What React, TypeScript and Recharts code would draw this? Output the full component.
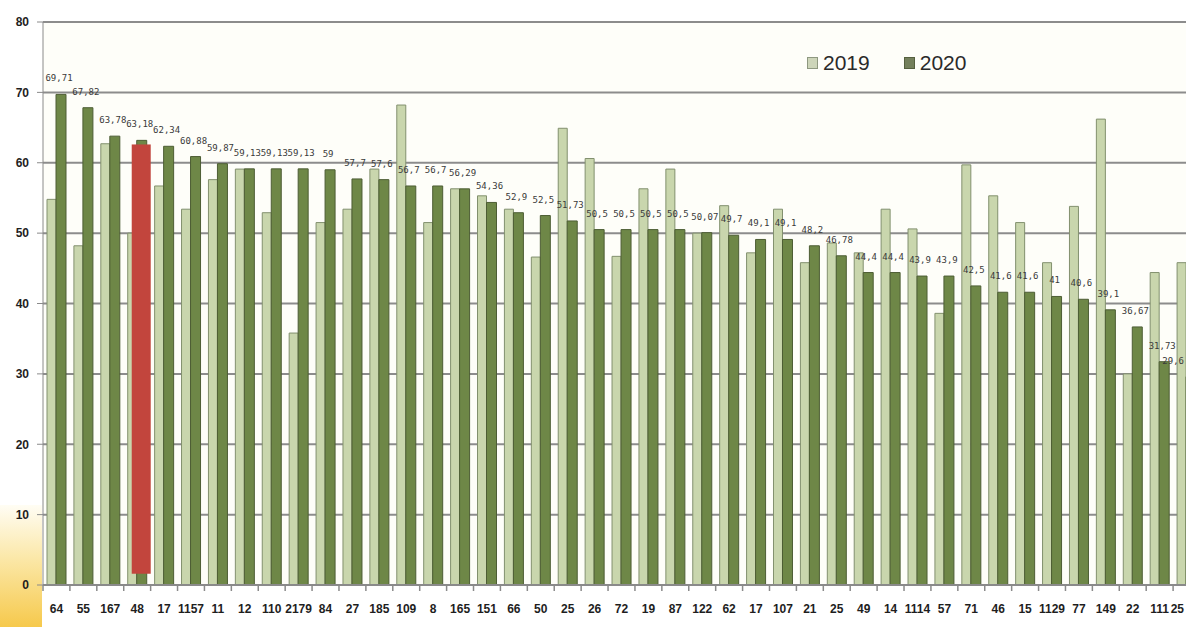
import React from 'react';
import {
  BarChart,
  Bar,
  XAxis,
  YAxis,
  CartesianGrid,
  LabelList,
} from 'recharts';

const categories = [
  '64', '55', '167', '48', '17', '1157', '11', '12', '110', '2179', '84',
  '27', '185', '109', '8', '165', '151', '66', '50', '25', '26', '72', '19',
  '87', '122', '62', '17', '107', '21', '25', '49', '14', '1114', '57', '71',
  '46', '15', '1129', '77', '149', '22', '111', '25',
];

const values2019 = [
  54.8, 48.2, 62.7, 50.0, 56.7, 53.4, 57.6, 59.1, 52.9, 35.8, 51.5,
  53.4, 59.1, 68.2, 51.5, 56.3, 55.3, 53.4, 46.6, 64.9, 60.6, 46.7, 56.3,
  59.1, 50.0, 53.9, 47.2, 53.4, 45.8, 48.6, 47.2, 53.4, 50.6, 38.6, 59.7,
  55.3, 51.5, 45.8, 53.8, 66.2, 30.0, 44.4, 45.8,
];

const values2020 = [
  69.71, 67.82, 63.78, 63.18, 62.34, 60.88, 59.87, 59.13, 59.13, 59.13, 59,
  57.7, 57.6, 56.7, 56.7, 56.29, 54.36, 52.9, 52.5, 51.73, 50.5, 50.5, 50.5,
  50.5, 50.07, 49.7, 49.1, 49.1, 48.2, 46.78, 44.4, 44.4, 43.9, 43.9, 42.5,
  41.6, 41.6, 41.0, 40.6, 39.1, 36.67, 31.73, 29.6,
];

const yTicks = [0, 10, 20, 30, 40, 50, 60, 70, 80];

const seriesNames = ['2019', '2020'];

// red marker drawn over one category
const highlightIndex = 3;
const highlightRange = [1.6, 62.6];

const data = categories.map((name, i) => ({
  name,
  y2019: values2019[i],
  y2020: values2020[i],
  hl: i === highlightIndex ? highlightRange : null,
}));

const VIEW_W = 1186;
const CHART_W = 1210;
const MARGIN = { top: 22, right: 10, left: 0, bottom: 0 };
const Y_W = 43;
const BAND = (CHART_W - MARGIN.left - MARGIN.right - Y_W) / categories.length;
const LAST = categories.length - 1;

const LIGHT = '#c9d6ad';
const LIGHT_EDGE = '#82906e';
const DARK = '#6e8747';
const DARK_EDGE = '#4d5d34';

const fmt = (v: number) =>
  Number.isInteger(v) ? String(v) : String(v).replace('.', ',');

const XTick = (props: any) => {
  const { x, y, payload, index } = props;
  const bx = x - BAND / 2;
  // the last category sits at the picture edge, keep its text inside
  const edge = index === LAST;
  return (
    <g>
      <line x1={bx} x2={bx} y1={y - 6} y2={y} stroke="#8a8a8a" strokeWidth={1.5} />
      <text
        x={edge ? VIEW_W - 2 : x}
        y={y + 22}
        textAnchor={edge ? 'end' : 'middle'}
        fontSize={12}
        fontWeight={700}
        fontFamily="Liberation Sans, Arial, sans-serif"
        fill="#1e1e1e"
      >
        {payload.value}
      </text>
    </g>
  );
};

const ValueLabel = (props: any) => {
  const { x, y, width, value, index } = props;
  if (value == null) return null;
  const edge = index === LAST;
  return (
    <text
      x={edge ? VIEW_W - 2 : x + width / 2 - 2}
      y={y - 13}
      textAnchor={edge ? 'end' : 'middle'}
      fontSize={9}
      fontFamily="DejaVu Sans Mono, monospace"
      fill="#3a3a3a"
    >
      {fmt(value)}
    </text>
  );
};

const HighlightShape = (props: any) => {
  const { x, y, width, height } = props;
  if (!height) return null;
  return <rect x={x + 4} y={y} width={width} height={height} fill="#c2453d" />;
};

const legendColors = [
  { fill: '#cdd5b9', edge: '#8e9880' },
  { fill: '#74805c', edge: '#55603f' },
];

const LegendBox = () => (
  <div
    style={{
      position: 'absolute',
      left: 807,
      top: 51,
      display: 'flex',
      alignItems: 'center',
      gap: 34,
    }}
  >
    {seriesNames.map((label, i) => (
      <div key={label} style={{ display: 'flex', alignItems: 'center' }}>
        <span
          style={{
            width: 9,
            height: 10,
            background: legendColors[i].fill,
            border: `1px solid ${legendColors[i].edge}`,
            marginRight: 5,
            display: 'inline-block',
          }}
        />
        <span
          style={{
            fontSize: 21,
            color: '#2a2a2a',
            fontFamily: 'Liberation Sans, Arial, sans-serif',
          }}
        >
          {label}
        </span>
      </div>
    ))}
  </div>
);

export default function App() {
  return (
    <div
      style={{
        position: 'fixed',
        left: 0,
        top: 0,
        width: VIEW_W,
        height: 627,
        overflow: 'hidden',
        background: '#ffffff',
      }}
    >
      <div
        style={{
          position: 'absolute',
          left: 0,
          top: 505,
          width: 42,
          height: 122,
          background: 'linear-gradient(to bottom, #fffdf4 0%, #fbe7a6 45%, #f6c94c 100%)',
        }}
      />
      <div style={{ position: 'absolute', left: 0, top: 0 }}>
        <BarChart
          width={CHART_W}
          height={627}
          data={data}
          margin={MARGIN}
          barGap={0}
        >
          <CartesianGrid
            vertical={false}
            stroke="#8c8c8c"
            strokeWidth={2}
            fill="#fefef9"
          />
          <XAxis
            dataKey="name"
            interval={0}
            height={42}
            tickSize={6}
            tickMargin={0}
            tickLine={false}
            stroke="#8a8a8a"
            strokeWidth={2}
            tick={<XTick />}
          />
          <XAxis xAxisId="hl" dataKey="name" hide />
          <YAxis
            width={Y_W}
            domain={[0, 80]}
            ticks={yTicks}
            interval={0}
            tickSize={6}
            tickMargin={8}
            stroke="#8a8a8a"
            tick={{
              fontSize: 12,
              fontWeight: 700,
              fill: '#1e1e1e',
              fontFamily: 'Liberation Sans, Arial, sans-serif',
            }}
          />
          <Bar
            dataKey="y2019"
            name={seriesNames[0]}
            barSize={9}
            fill={LIGHT}
            stroke={LIGHT_EDGE}
            strokeWidth={1}
            isAnimationActive={false}
          />
          <Bar
            dataKey="y2020"
            name={seriesNames[1]}
            barSize={10}
            fill={DARK}
            stroke={DARK_EDGE}
            strokeWidth={1}
            isAnimationActive={false}
          >
            <LabelList dataKey="y2020" content={<ValueLabel />} />
          </Bar>
          <Bar
            xAxisId="hl"
            dataKey="hl"
            barSize={19}
            fill="#c2453d"
            shape={<HighlightShape />}
            isAnimationActive={false}
          />
        </BarChart>
      </div>
      <LegendBox />
    </div>
  );
}
